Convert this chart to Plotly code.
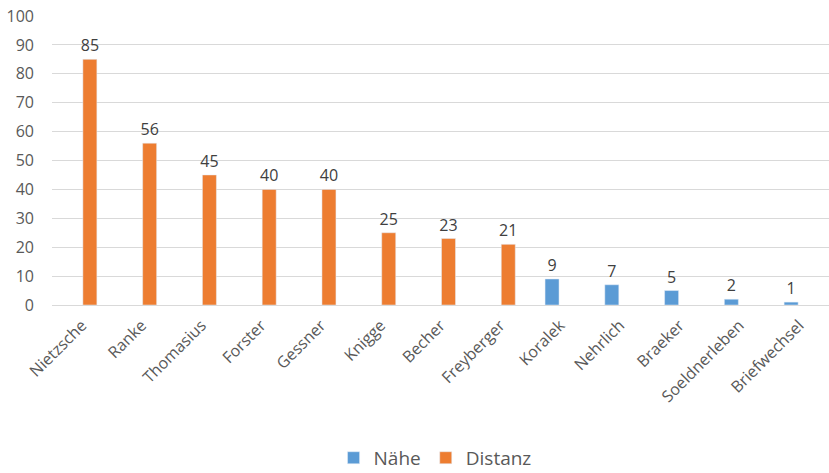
import plotly.graph_objects as go

categories = ["Nietzsche", "Ranke", "Thomasius", "Forster", "Gessner", "Knigge",
              "Becher", "Freyberger", "Koralek", "Nehrlich", "Braeker",
              "Soeldnerleben", "Briefwechsel"]
naehe = [None, None, None, None, None, None, None, None, 9, 7, 5, 2, 1]
distanz = [85, 56, 45, 40, 40, 25, 23, 21, None, None, None, None, None]
y_ticks = [0, 10, 20, 30, 40, 50, 60, 70, 80, 90, 100]

FONT = "Open Sans"
TXT = "#595959"

fig = go.Figure()
fig.add_trace(go.Bar(
    name="Nähe", x=categories, y=naehe, marker_color="#5B9BD5",
    text=[("" if v is None else str(v)) for v in naehe], textposition="outside",
    constraintext="none",
    textfont=dict(family=FONT, size=16, color="#404040"), cliponaxis=False,
))
fig.add_trace(go.Bar(
    name="Distanz", x=categories, y=distanz, marker_color="#ED7D31",
    text=[("" if v is None else str(v)) for v in distanz], textposition="outside",
    constraintext="none",
    textfont=dict(family=FONT, size=16, color="#404040"), cliponaxis=False,
))

fig.update_layout(
    width=829, height=473,
    margin=dict(l=52, r=0, t=16, b=168, autoexpand=False),
    barmode="group", bargap=0.465, bargroupgap=0.125,
    plot_bgcolor="white", paper_bgcolor="white",
    font=dict(family=FONT, size=16, color=TXT),
    showlegend=True,
    legend=dict(orientation="h", x=0.493, xanchor="center", y=-0.529, yanchor="middle",
                itemwidth=30,
                font=dict(family=FONT, size=19, color=TXT),
                traceorder="normal"),
)
fig.update_xaxes(tickangle=-45, showgrid=False, showline=False, ticks="",
                 automargin=False, ticklabelstandoff=7,
                 tickfont=dict(family=FONT, size=16, color=TXT))
fig.update_yaxes(range=[0, 100], tickvals=y_ticks, showgrid=True, gridcolor="#D9D9D9",
                 gridwidth=1, zeroline=True, zerolinecolor="#D9D9D9", zerolinewidth=1,
                 ticks="", ticklabelstandoff=17, automargin=False,
                 ticklabeloverflow="allow",
                 tickfont=dict(family=FONT, size=16, color=TXT))

fig.write_html("out.html", config={"displayModeBar": False},
               post_script="document.body.style.margin='0';")
